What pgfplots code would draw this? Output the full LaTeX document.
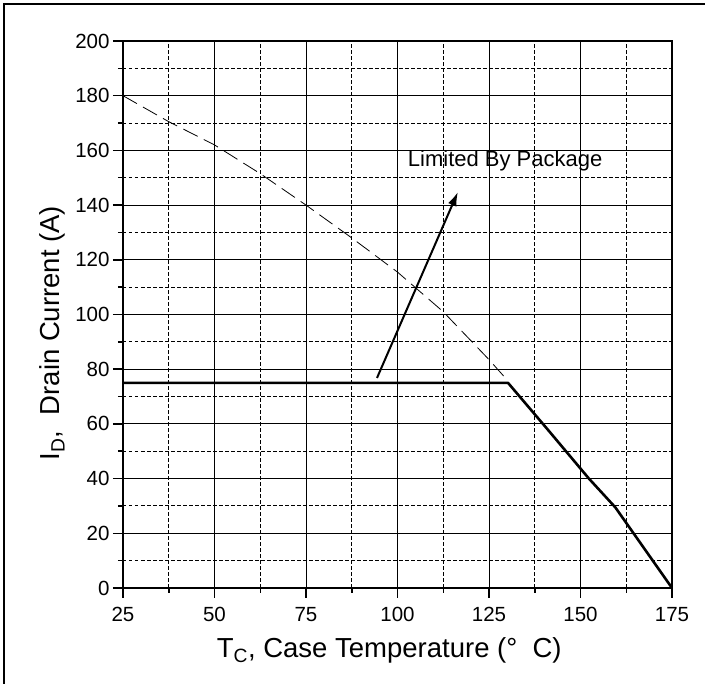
\documentclass[border=0pt]{standalone}
\usepackage{fontspec}
\setmainfont{Liberation Sans}
\usepackage{pgfplots}
\pgfplotsset{compat=1.18}
\usetikzlibrary{arrows.meta}

% drain current derating
\pgfplotstableread{
T I
25 180
37.5 170.5
50 162
62.5 151.5
75 140
87.5 128
100 115.5
112.5 101
120 90.5
125 83.5
129 77.5
}\unlimited

\pgfplotstableread{
T I
25 75
130.2 75
141 58
152.3 40
159.5 29.5
175 0
}\limited

\begin{document}
\begin{tikzpicture}
\useasboundingbox (0,0) rectangle (705pt,684pt);
\draw[line width=2pt] (4pt,0pt) -- (4pt,680pt) -- (705pt,680pt);
\begin{axis}[
  at={(123pt,96pt)}, anchor=south west,
  scale only axis,
  width=549pt, height=547pt,
  xmin=25, xmax=175, ymin=0, ymax=200,
  xtick={25,50,...,175},
  ytick={0,20,...,200},
  minor x tick num=1,
  minor y tick num=1,
  tick pos=left,
  tick align=outside,
  major tick length=10pt,
  minor tick length=5pt,
  every tick/.style={black, line width=1.5pt},
  grid=both,
  major grid style={black, line width=0.9pt},
  minor grid style={black, line width=0.9pt, dash pattern=on 3.5pt off 2.5pt},
  axis line style={line width=2pt},
  /pgf/number format/assume math mode=true,
  ticklabel style={font=\fontsize{20.5}{24}\selectfont, black},
  xticklabel style={yshift=-6pt},
  xlabel={T\textsubscript{C}, Case Temperature (°\ \ C)},
  ylabel={I\textsubscript{D},\ \ Drain Current (A)},
  label style={font=\fontsize{27.5}{32}\selectfont},
  xlabel style={at={(axis description cs:0.485,0)}, anchor=base, yshift=-70pt},
  ylabel style={at={(axis description cs:-0.115,0.466)}, anchor=base},
]
\addplot[black, line width=0.8pt, dash pattern=on 16pt off 7pt] table[x=T, y=I] {\unlimited};
\addplot[black, line width=2.6pt, line join=round] table[x=T, y=I] {\limited};
\draw[line width=2pt, -{Latex[length=14pt, width=9pt]}] (axis cs:94.4,76.8) -- (axis cs:116.5,144.8);
\node[anchor=base west, inner sep=0pt, font=\fontsize{22}{26}\selectfont] at (axis cs:102.8,154) {Limited By Package};
\end{axis}
\end{tikzpicture}
\end{document}
